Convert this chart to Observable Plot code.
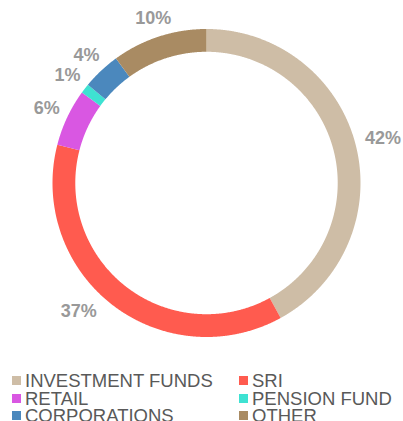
<!DOCTYPE html>
<html>
<head>
<meta charset="utf-8">
<script src="https://cdn.jsdelivr.net/npm/d3@7"></script>
<script src="https://cdn.jsdelivr.net/npm/@observablehq/plot@0.6"></script>
<style>
  html, body { margin: 0; padding: 0; background: #fff; width: 403px; height: 421px; overflow: hidden; }
  #chart svg { display: block; }
  #legend { position: relative; margin-top: 7px; height: 60px; font-family: "Liberation Sans", Arial, sans-serif; font-size: 18.5px; line-height: 17.5px; color: #595959; }
  .item { position: absolute; white-space: nowrap; }
  .sw { display: inline-block; width: 9px; height: 9px; margin-right: 4px; margin-bottom: 2px; vertical-align: baseline; }
</style>
</head>
<body>
<div id="chart"></div>
<div id="legend"></div>
<script>
const categories = ["INVESTMENT FUNDS", "SRI", "RETAIL", "PENSION FUND", "CORPORATIONS", "OTHER"];
const shares = [42, 37, 6, 1, 4, 10];
const labels = ["42%", "37%", "6%", "1%", "4%", "10%"];
const colors = ["#CEBDA6", "#FF5B4F", "#D957E2", "#3EE2D2", "#4B88BD", "#A98B63"];

const R = 154;                 // outer radius in px (scale unit)
const inner = 0.852, outer = 1;
const fontSize = 18;
// layout tweak: the SRI label sits a little further round the ring in the reference
const labelShift = {SRI: {dx: -19, dy: -13}};

// ring geometry from the data via d3.pie angles
const pie = d3.pie().sort(null).value(d => d.v).startAngle(0).endAngle(2 * Math.PI);
const arcs = pie(categories.map((c, i) => ({c, v: shares[i], t: labels[i]})));

const ring = [];
for (const a of arcs) {
  const n = Math.max(4, Math.ceil((a.endAngle - a.startAngle) / 0.005));
  for (let k = 0; k <= n; k++) {
    const th = a.startAngle + (a.endAngle - a.startAngle) * k / n;
    ring.push({cat: a.data.c, xi: inner * Math.sin(th), yi: inner * Math.cos(th), xo: outer * Math.sin(th), yo: outer * Math.cos(th)});
  }
}
// labels placed just outside the ring, pushed out by half their box along the radius
const lab = arcs.map(a => {
  const th = (a.startAngle + a.endAngle) / 2;
  const s = Math.sin(th), c = Math.cos(th);
  const digits = a.data.t.length - 1;
  const w = digits * 0.556 * fontSize + 0.889 * fontSize;
  const h = 11;
  const r = (163 + Math.abs(s) * w / 2 + Math.abs(c) * h / 2) / R;
  return {c: a.data.c, t: a.data.t, x: r * s, y: r * c};
});

const textOpts = {x: "x", y: "y", text: "t", fill: "#999999", fontSize, fontWeight: "bold",
  fontFamily: "Liberation Sans, Arial, sans-serif", textAnchor: "middle", lineAnchor: "middle"};

const plot = Plot.plot({
  width: 403,
  height: 365,
  marginLeft: 52.5,
  marginRight: 42.5,
  marginTop: 29,
  marginBottom: 28,
  x: {domain: [-1, 1], axis: null},
  y: {domain: [-1, 1], axis: null},
  color: {domain: categories, range: colors},
  marks: [
    Plot.area(ring, {x1: "xi", y1: "yi", x2: "xo", y2: "yo", z: "cat", fill: "cat"}),
    Plot.text(lab.filter(d => !labelShift[d.c]), textOpts),
    ...Object.entries(labelShift).map(([c, o]) =>
      Plot.text(lab.filter(d => d.c === c), {...textOpts, dx: o.dx, dy: o.dy}))
  ]
});
document.getElementById("chart").appendChild(plot);

// legend
const legend = document.getElementById("legend");
categories.forEach((c, i) => {
  const el = document.createElement("div");
  el.className = "item";
  el.style.left = (i % 2 === 0 ? 12 : 239) + "px";
  el.style.top = (Math.floor(i / 2) * 17.5) + "px";
  const sw = document.createElement("span");
  sw.className = "sw";
  sw.style.background = colors[i];
  el.appendChild(sw);
  el.appendChild(document.createTextNode(c));
  legend.appendChild(el);
});
</script>
</body>
</html>
